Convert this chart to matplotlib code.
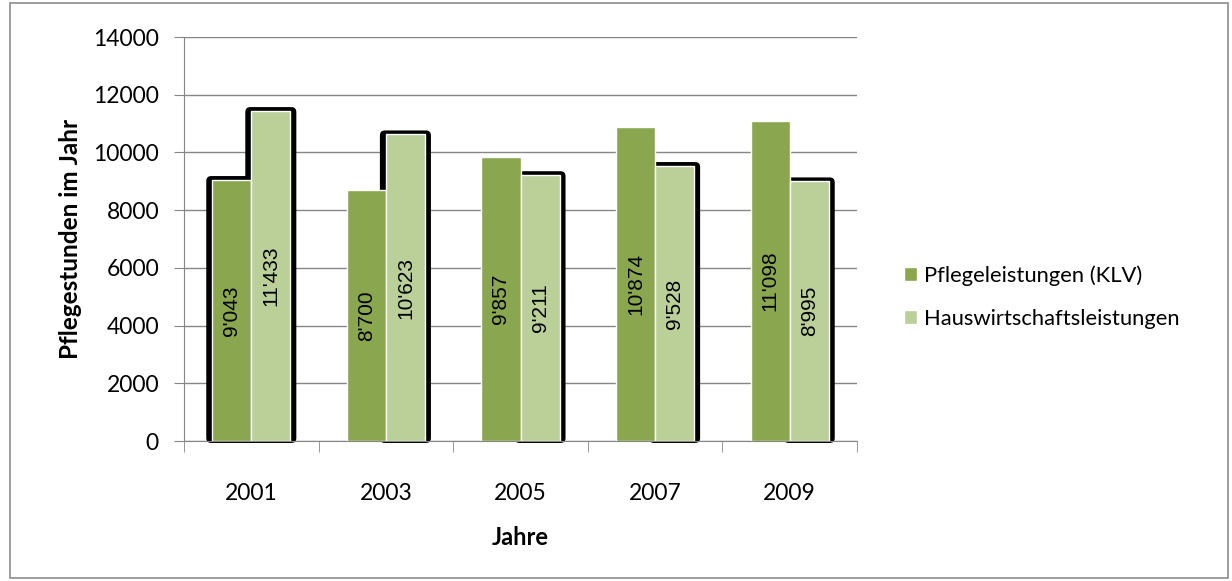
import matplotlib
matplotlib.use("Agg")
import matplotlib.pyplot as plt
from matplotlib.patches import FancyBboxPatch, Rectangle
import numpy as np

# chart data
years = ["2001", "2003", "2005", "2007", "2009"]
pflege = [9043, 8700, 9857, 10874, 11098]
haus = [11433, 10623, 9211, 9528, 8995]
pflege_labels = ["9'043", "8'700", "9'857", "10'874", "11'098"]
haus_labels = ["11'433", "10'623", "9'211", "9'528", "8'995"]

dark = "#8aa64e"
light = "#bbcf98"
grid_col = "#868686"

plt.rcParams["font.family"] = ["Lato", "DejaVu Sans"]

fig = plt.figure(figsize=(12.32, 5.81), dpi=100)
ax = fig.add_axes([184 / 1232, 1 - 441 / 581, (857 - 184) / 1232, (441 - 37) / 581])

x = np.arange(len(years))
w = 0.29
ax.set_xlim(-0.5, len(years) - 0.5)
ax.set_ylim(0, 14000)

# pixel -> data sizes for the odd black shadow behind bars
px_x = 1.0 / ((857 - 184) / len(years))
px_y = 14000 / (441 - 37)
aspect = px_y / px_x


def shadow(x0, width, height):
    p = FancyBboxPatch((x0 - 6 * px_x, -2 * px_y), width + 12 * px_x, height + 6 * px_y,
                       boxstyle="round,pad=0,rounding_size=%f" % (5 * px_x),
                       mutation_aspect=aspect, facecolor="black", edgecolor="none",
                       zorder=1, clip_on=False)
    ax.add_patch(p)


shadow(x[0] - w, w, pflege[0])
for i in range(len(years)):
    shadow(x[i], w, haus[i])

ax.bar(x - w / 2, pflege, w, color=dark, edgecolor="white", linewidth=1, zorder=2,
       label="Pflegeleistungen (KLV)")
ax.bar(x + w / 2, haus, w, color=light, edgecolor="white", linewidth=1, zorder=2,
       label="Hauswirtschaftsleistungen")

for i in range(len(years)):
    ax.text(x[i] - w / 2, pflege[i] / 2, pflege_labels[i], rotation=90, ha="center", va="center",
            fontsize=15, family=["Liberation Sans"], zorder=3)
    ax.text(x[i] + w / 2, haus[i] / 2, haus_labels[i], rotation=90, ha="center", va="center",
            fontsize=15, family=["Liberation Sans"], zorder=3)

ax.set_yticks(range(0, 14001, 2000))
ax.yaxis.grid(True, color=grid_col, linewidth=1)
ax.set_axisbelow(True)
ax.set_xticks(x)
ax.set_xticklabels(years)
ax.set_xticks(np.arange(-0.5, len(years)), minor=True)
ax.tick_params(axis="x", which="major", length=0, pad=30, labelsize=16.5)
ax.tick_params(axis="x", which="minor", length=8, color=grid_col)
ax.tick_params(axis="y", length=7, color=grid_col, pad=11, labelsize=16.5)
for s in ["top", "right"]:
    ax.spines[s].set_visible(False)
for s in ["left", "bottom"]:
    ax.spines[s].set_color(grid_col)
ax.spines["bottom"].set_zorder(4)

ax.set_ylabel("Pflegestunden im Jahr", fontsize=17.5, fontweight="bold", labelpad=8)
ax.set_xlabel("Jahre", fontsize=17, fontweight="bold", labelpad=16)

fig.legend(loc="center left", bbox_to_anchor=(884 / 1232, 1 - 297 / 581), frameon=False,
           fontsize=15.8, handlelength=0.6, handleheight=0.6, handletextpad=0.3, labelspacing=1.05)

fig.patches.append(Rectangle((10 / 1232, 3 / 581), 1218 / 1232, 575 / 581, transform=fig.transFigure,
                             fill=False, edgecolor="#8c8c8c", linewidth=1.2))

fig.savefig("out.png", dpi=100)
